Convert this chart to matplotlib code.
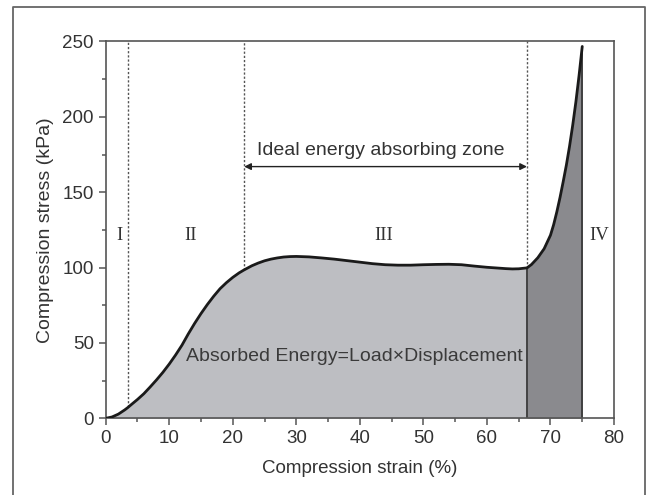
import numpy as np
import matplotlib
matplotlib.use("Agg")
import matplotlib.pyplot as plt
from matplotlib.lines import Line2D
from matplotlib.ticker import MultipleLocator

# Stress-strain curve of the foam (strain in %, stress in kPa)
strain = [0, 1, 2, 3, 3.5, 4, 5, 6, 7, 8, 9, 10, 11, 12, 13, 14, 15, 16, 17,
          18, 19, 20, 21, 21.8, 23, 24, 25, 26, 27, 28, 29, 30, 32, 34, 36, 38,
          40, 42, 44, 46, 48, 50, 52, 54, 56, 58, 60, 62, 63, 64, 65, 66.3,
          67, 68, 69, 70, 70.5, 71, 71.5, 72, 72.5, 73, 73.5, 74, 74.5, 75.0]
stress = [0, 0.9, 2.8, 5.6, 7.2, 9.0, 12.5, 16.3, 20.8, 25.5, 30.5, 36.0,
          42.0, 48.5, 56.0, 63.0, 69.5, 75.5, 81.0, 86.0, 90.0, 93.5, 96.5,
          98.5, 101.2, 103.0, 104.5, 105.6, 106.4, 107.0, 107.3, 107.4, 107.1,
          106.4, 105.6, 104.6, 103.6, 102.6, 101.9, 101.6, 101.6, 101.9, 102.1,
          102.2, 101.9, 101.0, 100.2, 99.6, 99.3, 99.1, 99.2, 99.8, 102.0,
          106.5, 112.5, 121.5, 128.5, 137.0, 146.5, 157.0, 168.0, 180.5, 194.5,
          210.0, 227.5, 246.7]

# Region boundaries (strain, %) and labels
boundaries = [3.5, 21.8, 66.3]
end_strain = 75.0
region_labels = ["I", "II", "III", "IV"]
region_label_x = [2.1, 13.3, 43.8, 77.7]
region_label_y = 121

zone_text = "Ideal energy absorbing zone"
energy_text = "Absorbed Energy=Load\u00d7Displacement"

x_ticks = [0, 10, 20, 30, 40, 50, 60, 70, 80]
y_ticks = [0, 50, 100, 150, 200, 250]

light_fill = "#bdbec2"
dark_fill = "#8a8a8e"
ink = "#333333"
spine_col = "#555555"

plt.rcParams["font.family"] = ["Liberation Sans", "DejaVu Sans"]

fig = plt.figure(figsize=(6.46, 4.95), dpi=100)
ax = fig.add_axes([0.1636, 0.1549, 0.9505 - 0.1636, 0.9162 - 0.1549])

s = np.array(strain)
t = np.array(stress)
plateau_end = boundaries[-1]

# Shaded energy areas
ax.fill_between(s, t, 0, where=s <= plateau_end + 1e-9, color=light_fill,
                lw=0, zorder=1)
ax.fill_between(s, t, 0, where=s >= plateau_end - 1e-9, color=dark_fill,
                lw=0, zorder=1)

# Solid edges of the densification area
i_p = strain.index(plateau_end)
i_e = strain.index(end_strain)
ax.vlines([strain[i_p], strain[i_e]], 0, [stress[i_p], stress[i_e]],
          colors="#3a3a3a", lw=1.3, zorder=2)

# Dotted region separators from the curve up to the top
for b in boundaries:
    yb = stress[strain.index(b)]
    ax.vlines(b, yb, 250, colors="#555555", lw=1.0,
              linestyles=(0, (1.6, 1.4)), zorder=2)

# Stress-strain curve
ax.plot(s, t, color="#1a1a1a", lw=2.0, solid_joinstyle="round",
        solid_capstyle="round", zorder=4)

# Double arrow spanning the plateau
ax.annotate("", xy=(boundaries[1], 167), xytext=(boundaries[2], 167),
            arrowprops=dict(arrowstyle="<|-|>", color="#222222", lw=1.0,
                            mutation_scale=10, shrinkA=0, shrinkB=0),
            zorder=5)
ax.text(43.3, 178, zone_text, ha="center", va="center", fontsize=14,
        color=ink)
ax.text(39.2, 41, energy_text, ha="center", va="center", fontsize=14,
        color="#3a3a3a", zorder=5)

for lab, lx in zip(region_labels, region_label_x):
    ax.text(lx, region_label_y, lab, ha="center", va="center", fontsize=13.5,
            family=["Liberation Serif", "DejaVu Serif"], color=ink)

ax.set_xlim(0, 80)
ax.set_ylim(0, 250)
ax.set_xticks(x_ticks)
ax.set_yticks(y_ticks)
ax.xaxis.set_minor_locator(MultipleLocator(5))
ax.yaxis.set_minor_locator(MultipleLocator(25))
ax.tick_params(which="both", direction="out", colors=spine_col,
               labelcolor=ink, labelsize=13.5, width=1.1)
ax.tick_params(which="major", length=5)
ax.tick_params(which="minor", length=3)
for sp in ax.spines.values():
    sp.set_color(spine_col)
    sp.set_linewidth(1.2)

ax.set_xlabel("Compression strain (%)", fontsize=13.5, color=ink, labelpad=9)
ax.set_ylabel("Compression stress (kPa)", fontsize=14, color=ink, labelpad=6)

# Outer frame around the figure (open at the bottom edge)
W, H = 646, 495
fx = [12.7 / W, 12.7 / W, 645 / W, 645 / W]
fy = [-0.05, 1 - 7.3 / H, 1 - 7.3 / H, -0.05]
fig.add_artist(Line2D(fx, fy, transform=fig.transFigure, color="#666666",
                      lw=1.3))

fig.savefig("out.png", dpi=100)
